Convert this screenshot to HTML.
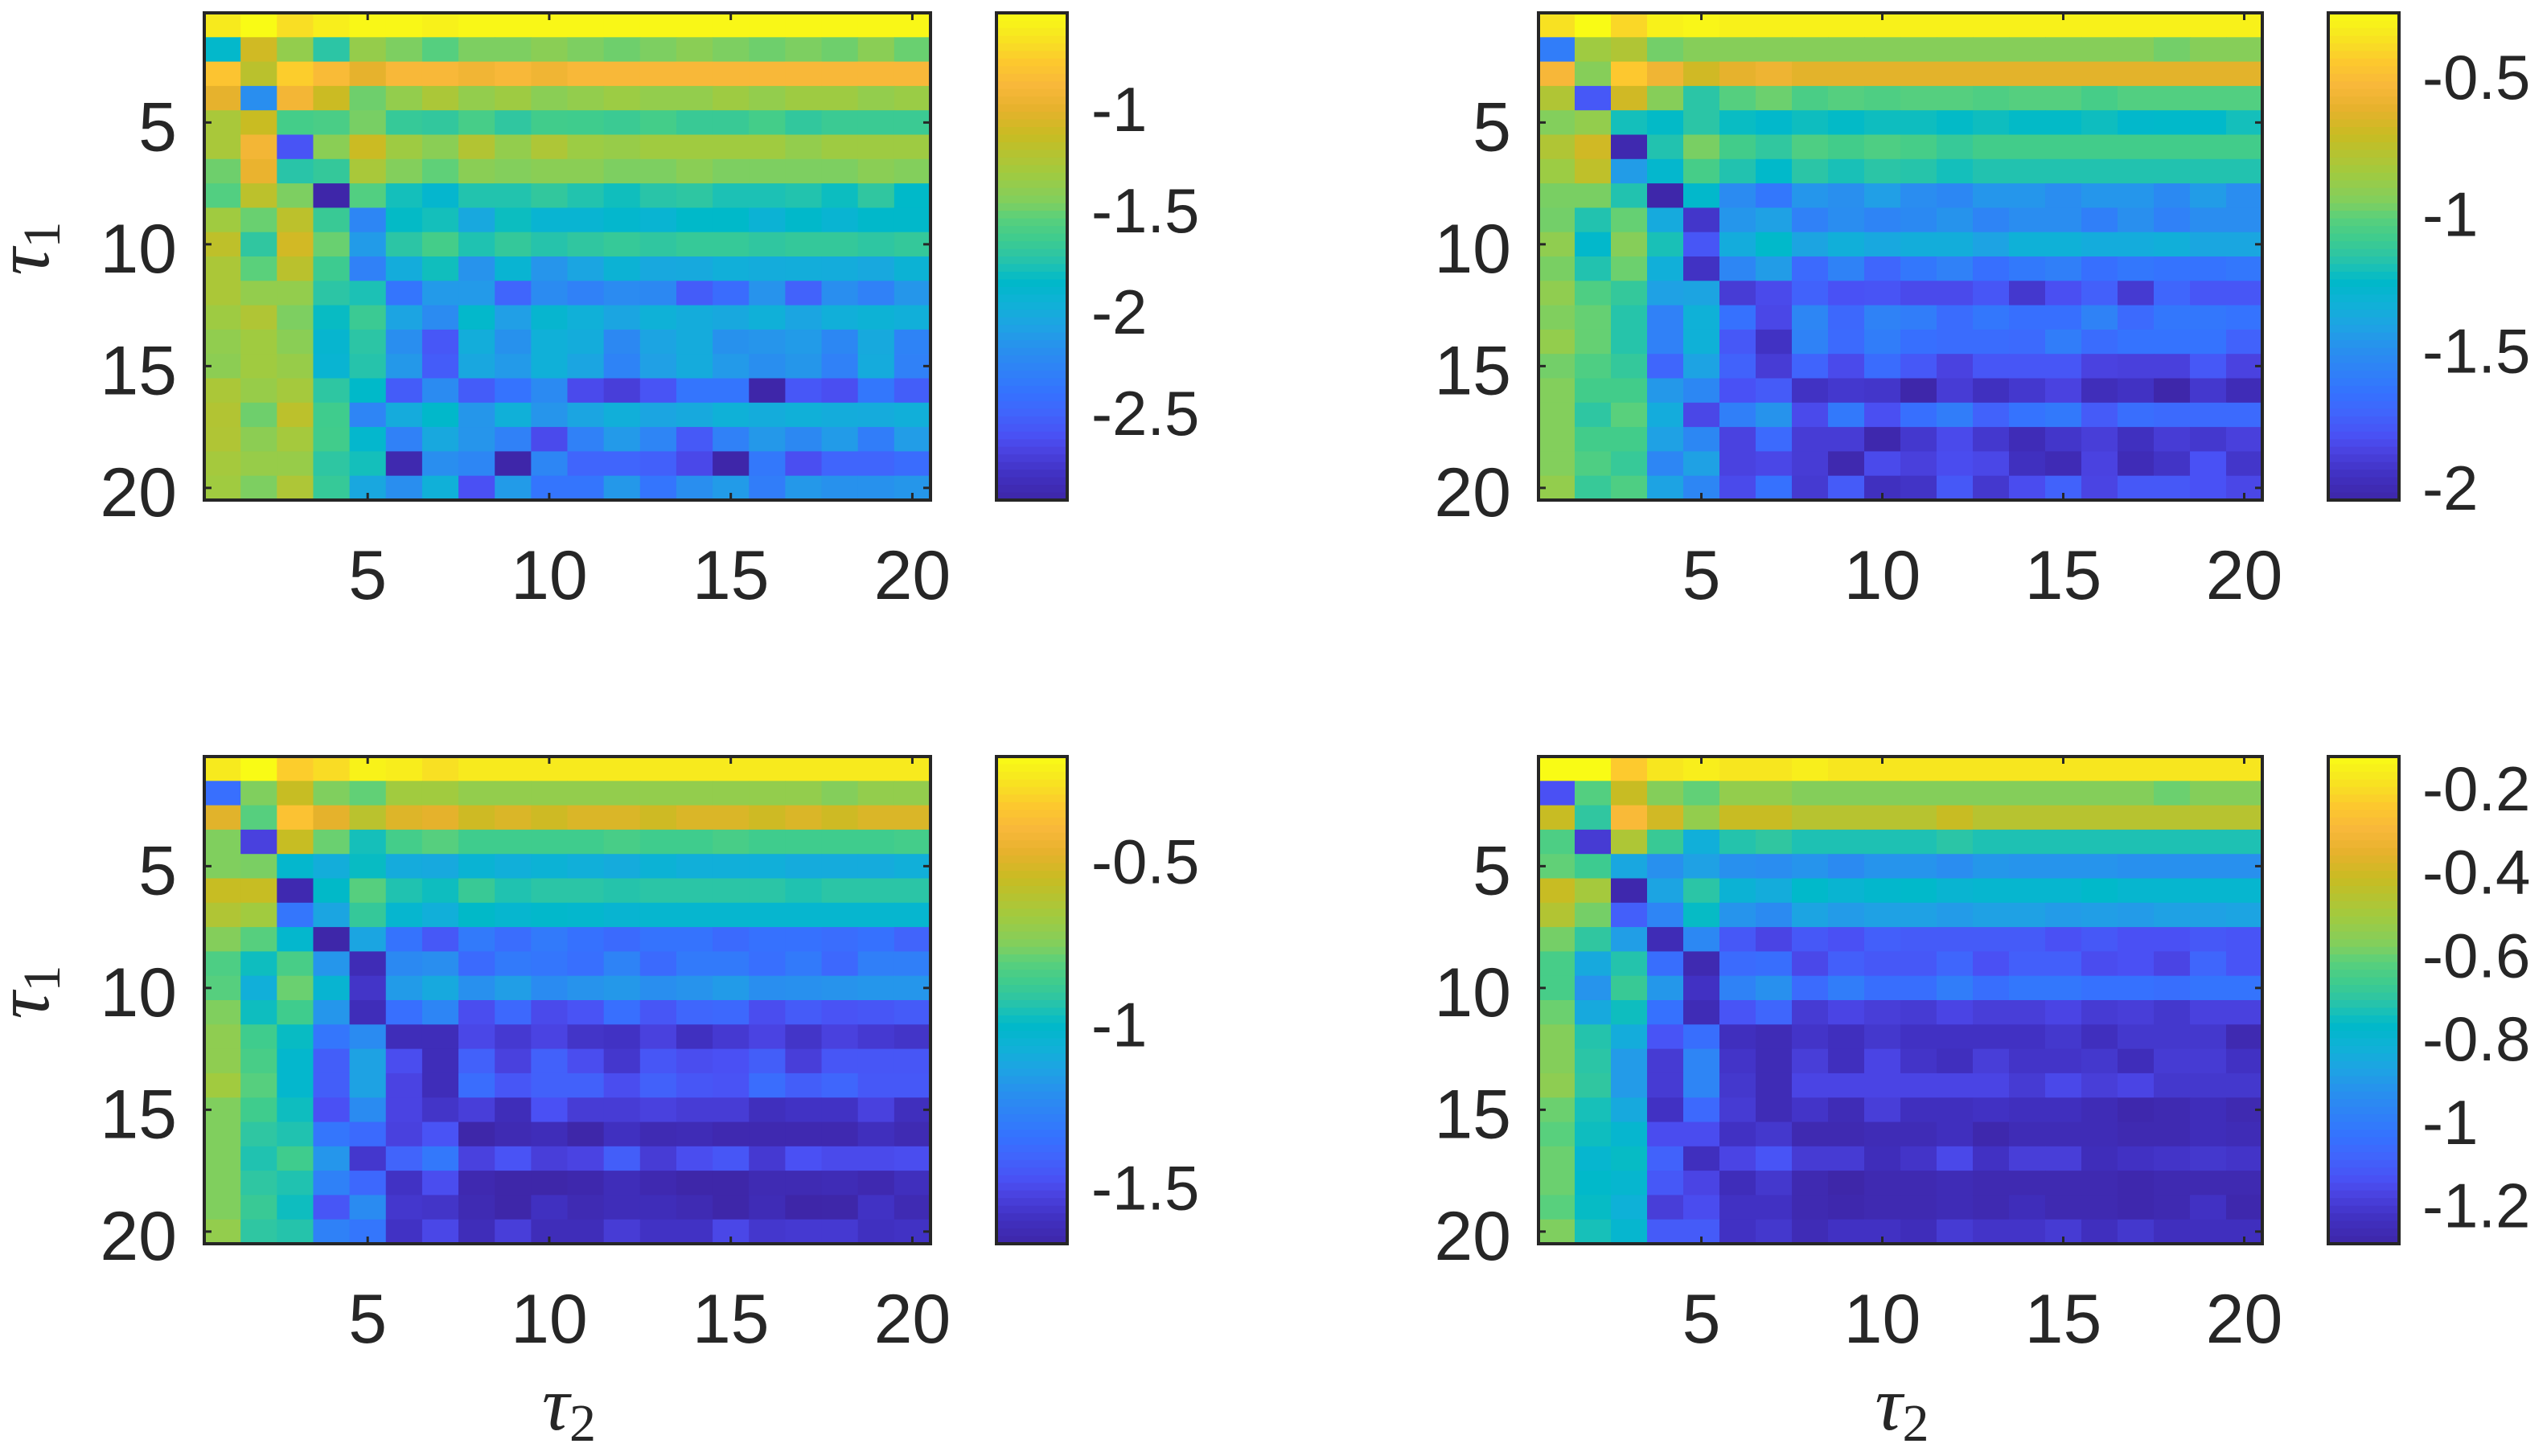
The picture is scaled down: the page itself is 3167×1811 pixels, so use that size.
<!DOCTYPE html>
<html lang="en">
<head>
<meta charset="utf-8">
<title>Heatmaps over tau1 and tau2</title>
<style>
html,body{margin:0;padding:0;background:#fff;}
svg{display:block;}
text{font-family:"Liberation Sans",sans-serif;fill:#262626;}
.math{font-family:"Liberation Serif",serif;font-style:italic;}
.sub{font-family:"Liberation Serif",serif;font-style:normal;}
</style>
</head>
<body>
<svg id="chart" xmlns="http://www.w3.org/2000/svg" width="3167" height="1811" viewBox="0 0 3167 1811"></svg>
<script>
const tau1Categories = [1,2,3,4,5,6,7,8,9,10,11,12,13,14,15,16,17,18,19,20];
const tau2Categories = [1,2,3,4,5,6,7,8,9,10,11,12,13,14,15,16,17,18,19,20];
const axisTickLabels = [5,10,15,20];

const valuesTopLeft = [
[-0.62,-0.52,-0.68,-0.60,-0.55,-0.55,-0.58,-0.55,-0.55,-0.55,-0.55,-0.55,-0.55,-0.55,-0.55,-0.55,-0.55,-0.55,-0.55,-0.55],
[-1.87,-1.10,-1.38,-1.73,-1.37,-1.47,-1.56,-1.47,-1.47,-1.42,-1.47,-1.50,-1.47,-1.42,-1.47,-1.50,-1.47,-1.50,-1.42,-1.51],
[-0.80,-1.20,-0.75,-0.86,-1.00,-0.88,-0.88,-0.93,-0.88,-0.94,-0.88,-0.88,-0.88,-0.88,-0.88,-0.88,-0.88,-0.88,-0.88,-0.88],
[-1.00,-2.20,-0.92,-1.12,-1.50,-1.38,-1.27,-1.38,-1.33,-1.42,-1.38,-1.34,-1.38,-1.38,-1.33,-1.38,-1.33,-1.33,-1.38,-1.35],
[-1.28,-1.13,-1.62,-1.60,-1.48,-1.68,-1.70,-1.61,-1.71,-1.63,-1.64,-1.66,-1.62,-1.67,-1.67,-1.62,-1.70,-1.66,-1.66,-1.66],
[-1.28,-0.92,-2.60,-1.42,-1.12,-1.33,-1.42,-1.24,-1.38,-1.26,-1.34,-1.36,-1.32,-1.32,-1.32,-1.32,-1.38,-1.33,-1.33,-1.33],
[-1.50,-0.98,-1.74,-1.69,-1.28,-1.45,-1.53,-1.42,-1.45,-1.42,-1.42,-1.47,-1.47,-1.42,-1.47,-1.47,-1.47,-1.47,-1.42,-1.45],
[-1.57,-1.19,-1.47,-2.93,-1.57,-1.80,-1.89,-1.76,-1.76,-1.70,-1.76,-1.81,-1.74,-1.72,-1.78,-1.78,-1.76,-1.82,-1.71,-1.85],
[-1.32,-1.51,-1.19,-1.67,-2.26,-1.84,-1.80,-2.03,-1.82,-1.92,-1.92,-1.88,-1.92,-1.85,-1.85,-1.94,-1.86,-1.92,-1.86,-1.86],
[-1.18,-1.71,-1.09,-1.51,-2.12,-1.73,-1.62,-1.77,-1.69,-1.75,-1.71,-1.68,-1.71,-1.68,-1.68,-1.71,-1.69,-1.69,-1.72,-1.69],
[-1.27,-1.54,-1.20,-1.65,-2.30,-2.00,-1.81,-2.17,-1.92,-2.16,-2.05,-1.94,-2.03,-2.02,-1.98,-2.00,-1.99,-2.00,-2.03,-1.94],
[-1.27,-1.38,-1.38,-1.73,-1.78,-2.38,-2.13,-2.13,-2.50,-2.22,-2.30,-2.22,-2.24,-2.55,-2.45,-2.17,-2.52,-2.20,-2.30,-2.15],
[-1.33,-1.25,-1.47,-1.83,-1.66,-2.06,-2.22,-1.87,-2.10,-1.90,-1.97,-2.05,-1.96,-2.00,-2.03,-1.97,-2.05,-1.98,-1.95,-1.98],
[-1.39,-1.32,-1.42,-1.90,-1.73,-2.20,-2.58,-1.99,-2.18,-1.97,-2.00,-2.24,-2.06,-2.01,-2.18,-2.16,-2.12,-2.25,-2.02,-2.28],
[-1.41,-1.32,-1.36,-1.92,-1.75,-2.14,-2.55,-2.04,-2.13,-1.97,-2.05,-2.28,-2.09,-2.01,-2.13,-2.20,-2.15,-2.30,-2.01,-2.30],
[-1.27,-1.36,-1.30,-1.72,-1.85,-2.55,-2.22,-2.55,-2.40,-2.23,-2.65,-2.72,-2.60,-2.38,-2.38,-2.93,-2.58,-2.63,-2.37,-2.54],
[-1.24,-1.50,-1.19,-1.64,-2.27,-2.01,-1.86,-2.15,-1.97,-2.16,-2.05,-1.98,-2.05,-2.02,-1.96,-2.00,-1.97,-2.00,-2.01,-1.98],
[-1.25,-1.41,-1.30,-1.63,-1.88,-2.30,-2.03,-2.16,-2.30,-2.65,-2.30,-2.13,-2.27,-2.57,-2.30,-2.14,-2.24,-2.12,-2.33,-2.11],
[-1.30,-1.36,-1.36,-1.72,-1.80,-2.90,-2.20,-2.26,-2.93,-2.26,-2.50,-2.50,-2.53,-2.66,-2.93,-2.36,-2.63,-2.50,-2.50,-2.45],
[-1.32,-1.47,-1.26,-1.68,-2.04,-2.20,-1.97,-2.62,-2.12,-2.38,-2.38,-2.14,-2.38,-2.20,-2.12,-2.33,-2.14,-2.18,-2.18,-2.15]
];

const valuesTopRight = [
[-0.37,-0.27,-0.40,-0.31,-0.29,-0.31,-0.31,-0.31,-0.31,-0.31,-0.31,-0.31,-0.31,-0.31,-0.31,-0.31,-0.31,-0.31,-0.31,-0.31],
[-1.60,-0.86,-0.80,-0.98,-0.94,-0.94,-0.94,-0.94,-0.94,-0.94,-0.94,-0.94,-0.94,-0.94,-0.94,-0.94,-0.94,-0.98,-0.94,-0.94],
[-0.54,-0.94,-0.45,-0.57,-0.69,-0.62,-0.58,-0.63,-0.63,-0.63,-0.63,-0.63,-0.63,-0.63,-0.63,-0.63,-0.63,-0.63,-0.63,-0.63],
[-0.80,-1.78,-0.69,-0.94,-1.16,-1.03,-0.99,-1.06,-1.03,-1.05,-1.03,-1.03,-1.05,-1.03,-1.03,-1.07,-1.04,-1.04,-1.04,-1.04],
[-0.95,-0.90,-1.21,-1.24,-1.16,-1.23,-1.26,-1.22,-1.24,-1.22,-1.22,-1.24,-1.22,-1.24,-1.24,-1.22,-1.26,-1.25,-1.25,-1.21],
[-0.80,-0.69,-2.02,-1.18,-0.97,-1.08,-1.14,-1.05,-1.08,-1.05,-1.07,-1.12,-1.08,-1.08,-1.08,-1.08,-1.08,-1.08,-1.08,-1.08],
[-0.87,-0.75,-1.44,-1.27,-1.07,-1.18,-1.25,-1.16,-1.20,-1.16,-1.17,-1.21,-1.18,-1.18,-1.18,-1.18,-1.18,-1.18,-1.18,-1.18],
[-0.97,-0.97,-1.18,-2.04,-1.26,-1.52,-1.63,-1.47,-1.50,-1.43,-1.51,-1.54,-1.47,-1.47,-1.51,-1.47,-1.47,-1.53,-1.44,-1.51],
[-0.98,-1.18,-1.00,-1.37,-1.93,-1.47,-1.42,-1.58,-1.51,-1.56,-1.53,-1.48,-1.56,-1.51,-1.51,-1.59,-1.50,-1.58,-1.51,-1.51],
[-0.91,-1.26,-0.94,-1.20,-1.79,-1.36,-1.25,-1.40,-1.34,-1.38,-1.35,-1.35,-1.41,-1.33,-1.33,-1.36,-1.36,-1.34,-1.39,-1.39],
[-0.97,-1.18,-0.99,-1.34,-1.95,-1.55,-1.44,-1.70,-1.57,-1.72,-1.63,-1.58,-1.67,-1.62,-1.59,-1.67,-1.63,-1.65,-1.65,-1.63],
[-0.91,-1.05,-1.13,-1.42,-1.40,-1.90,-1.84,-1.74,-1.81,-1.80,-1.84,-1.84,-1.79,-1.92,-1.82,-1.75,-1.91,-1.72,-1.79,-1.79],
[-0.96,-1.00,-1.17,-1.58,-1.33,-1.66,-1.85,-1.55,-1.71,-1.57,-1.60,-1.69,-1.63,-1.67,-1.67,-1.57,-1.70,-1.63,-1.63,-1.65],
[-0.90,-1.00,-1.17,-1.58,-1.33,-1.78,-1.95,-1.57,-1.70,-1.60,-1.67,-1.69,-1.69,-1.70,-1.60,-1.69,-1.65,-1.65,-1.65,-1.74],
[-0.98,-1.05,-1.13,-1.72,-1.41,-1.74,-1.90,-1.73,-1.84,-1.69,-1.78,-1.87,-1.79,-1.79,-1.79,-1.87,-1.88,-1.88,-1.78,-1.87],
[-0.95,-1.08,-1.08,-1.46,-1.54,-1.81,-1.77,-1.95,-1.92,-1.93,-2.04,-1.90,-1.96,-1.92,-1.87,-1.98,-1.95,-2.04,-1.92,-1.99],
[-0.95,-1.15,-1.02,-1.36,-1.85,-1.59,-1.48,-1.84,-1.62,-1.82,-1.67,-1.60,-1.74,-1.65,-1.62,-1.77,-1.68,-1.70,-1.70,-1.70],
[-0.95,-1.08,-1.08,-1.42,-1.54,-1.87,-1.70,-1.90,-1.90,-2.03,-1.92,-1.84,-1.92,-1.99,-1.93,-1.89,-1.96,-1.90,-1.92,-1.88],
[-0.95,-1.05,-1.12,-1.55,-1.42,-1.87,-1.85,-1.90,-2.02,-1.84,-1.88,-1.83,-1.85,-1.96,-2.00,-1.87,-1.99,-1.94,-1.81,-1.93],
[-0.90,-1.12,-1.05,-1.41,-1.55,-1.84,-1.66,-1.91,-1.77,-1.96,-1.94,-1.78,-1.92,-1.83,-1.74,-1.86,-1.78,-1.78,-1.81,-1.85]
];

const valuesBottomLeft = [
[-0.24,-0.18,-0.32,-0.28,-0.21,-0.23,-0.27,-0.24,-0.24,-0.24,-0.24,-0.24,-0.24,-0.24,-0.24,-0.24,-0.24,-0.24,-0.24,-0.24],
[-1.36,-0.76,-0.56,-0.76,-0.80,-0.67,-0.67,-0.71,-0.71,-0.71,-0.71,-0.71,-0.71,-0.71,-0.71,-0.71,-0.71,-0.75,-0.71,-0.71],
[-0.49,-0.82,-0.36,-0.48,-0.60,-0.50,-0.48,-0.54,-0.51,-0.54,-0.51,-0.51,-0.54,-0.51,-0.51,-0.54,-0.51,-0.54,-0.51,-0.51],
[-0.76,-1.53,-0.56,-0.79,-0.97,-0.86,-0.82,-0.87,-0.87,-0.87,-0.87,-0.85,-0.87,-0.87,-0.85,-0.87,-0.87,-0.87,-0.87,-0.86],
[-0.76,-0.77,-1.02,-1.09,-0.99,-1.10,-1.11,-1.05,-1.08,-1.06,-1.08,-1.10,-1.06,-1.08,-1.08,-1.08,-1.10,-1.10,-1.10,-1.08],
[-0.56,-0.56,-1.65,-1.00,-0.82,-0.95,-0.98,-0.89,-0.95,-0.93,-0.93,-0.94,-0.93,-0.93,-0.93,-0.93,-0.95,-0.93,-0.93,-0.93],
[-0.63,-0.67,-1.33,-1.13,-0.90,-1.03,-1.08,-1.00,-1.03,-1.01,-1.02,-1.04,-1.03,-1.03,-1.03,-1.03,-1.03,-1.03,-1.03,-1.03],
[-0.75,-0.82,-1.02,-1.67,-1.13,-1.34,-1.45,-1.31,-1.37,-1.31,-1.35,-1.38,-1.34,-1.34,-1.38,-1.35,-1.35,-1.37,-1.35,-1.41],
[-0.84,-0.98,-0.85,-1.19,-1.63,-1.24,-1.22,-1.38,-1.31,-1.33,-1.36,-1.27,-1.38,-1.31,-1.31,-1.36,-1.31,-1.39,-1.29,-1.29],
[-0.82,-1.08,-0.79,-1.04,-1.58,-1.17,-1.11,-1.21,-1.16,-1.23,-1.20,-1.18,-1.22,-1.20,-1.17,-1.22,-1.21,-1.20,-1.19,-1.19],
[-0.76,-0.98,-0.87,-1.19,-1.62,-1.36,-1.26,-1.49,-1.39,-1.50,-1.47,-1.36,-1.46,-1.40,-1.39,-1.49,-1.44,-1.47,-1.46,-1.44],
[-0.72,-0.87,-0.99,-1.33,-1.23,-1.62,-1.62,-1.51,-1.56,-1.52,-1.58,-1.59,-1.53,-1.60,-1.56,-1.52,-1.58,-1.53,-1.56,-1.58],
[-0.72,-0.85,-1.02,-1.43,-1.14,-1.49,-1.62,-1.42,-1.53,-1.42,-1.49,-1.57,-1.46,-1.49,-1.48,-1.43,-1.54,-1.46,-1.46,-1.46],
[-0.67,-0.82,-1.02,-1.43,-1.14,-1.52,-1.62,-1.37,-1.46,-1.42,-1.42,-1.49,-1.42,-1.46,-1.47,-1.37,-1.43,-1.40,-1.45,-1.45],
[-0.76,-0.87,-0.98,-1.48,-1.23,-1.52,-1.58,-1.54,-1.62,-1.48,-1.55,-1.55,-1.53,-1.55,-1.55,-1.61,-1.59,-1.59,-1.53,-1.61],
[-0.76,-0.92,-0.95,-1.33,-1.38,-1.53,-1.47,-1.67,-1.64,-1.62,-1.67,-1.60,-1.64,-1.63,-1.65,-1.65,-1.65,-1.65,-1.61,-1.64],
[-0.76,-0.95,-0.87,-1.19,-1.57,-1.41,-1.32,-1.53,-1.47,-1.54,-1.52,-1.43,-1.55,-1.49,-1.46,-1.56,-1.48,-1.50,-1.50,-1.49],
[-0.76,-0.92,-0.95,-1.28,-1.39,-1.59,-1.49,-1.65,-1.67,-1.67,-1.66,-1.62,-1.65,-1.67,-1.67,-1.64,-1.64,-1.63,-1.65,-1.61],
[-0.76,-0.89,-0.98,-1.46,-1.23,-1.57,-1.58,-1.64,-1.67,-1.60,-1.64,-1.62,-1.62,-1.64,-1.67,-1.63,-1.68,-1.67,-1.59,-1.64],
[-0.71,-0.92,-0.94,-1.28,-1.33,-1.59,-1.51,-1.62,-1.54,-1.62,-1.62,-1.55,-1.59,-1.59,-1.51,-1.57,-1.56,-1.56,-1.60,-1.59]
];

const valuesBottomRight = [
[-0.12,-0.12,-0.24,-0.18,-0.16,-0.18,-0.18,-0.16,-0.18,-0.18,-0.18,-0.18,-0.18,-0.18,-0.18,-0.18,-0.18,-0.18,-0.18,-0.18],
[-1.14,-0.63,-0.42,-0.57,-0.61,-0.54,-0.54,-0.57,-0.57,-0.57,-0.57,-0.57,-0.57,-0.57,-0.57,-0.57,-0.57,-0.60,-0.57,-0.57],
[-0.42,-0.70,-0.29,-0.40,-0.54,-0.42,-0.42,-0.46,-0.46,-0.46,-0.46,-0.42,-0.46,-0.46,-0.46,-0.46,-0.46,-0.46,-0.46,-0.46],
[-0.64,-1.20,-0.48,-0.68,-0.83,-0.72,-0.70,-0.73,-0.73,-0.73,-0.73,-0.71,-0.73,-0.73,-0.73,-0.73,-0.73,-0.73,-0.73,-0.73],
[-0.61,-0.67,-0.86,-0.93,-0.88,-0.93,-0.94,-0.92,-0.95,-0.92,-0.92,-0.94,-0.91,-0.92,-0.92,-0.92,-0.93,-0.93,-0.93,-0.93],
[-0.42,-0.50,-1.28,-0.87,-0.71,-0.81,-0.84,-0.77,-0.80,-0.78,-0.77,-0.80,-0.79,-0.79,-0.79,-0.77,-0.79,-0.79,-0.79,-0.79],
[-0.47,-0.59,-1.10,-0.97,-0.76,-0.92,-0.95,-0.87,-0.90,-0.88,-0.88,-0.90,-0.88,-0.88,-0.90,-0.89,-0.90,-0.88,-0.88,-0.87],
[-0.59,-0.70,-0.89,-1.26,-0.96,-1.12,-1.17,-1.12,-1.14,-1.10,-1.11,-1.11,-1.11,-1.11,-1.14,-1.12,-1.14,-1.14,-1.12,-1.13],
[-0.65,-0.85,-0.72,-1.05,-1.27,-1.06,-1.05,-1.16,-1.10,-1.12,-1.12,-1.08,-1.14,-1.10,-1.10,-1.15,-1.14,-1.17,-1.08,-1.13],
[-0.65,-0.92,-0.68,-0.91,-1.23,-0.98,-0.93,-1.06,-1.00,-1.05,-1.05,-1.00,-1.05,-1.02,-1.02,-1.04,-1.04,-1.05,-1.03,-1.03],
[-0.60,-0.85,-0.75,-1.04,-1.26,-1.13,-1.08,-1.20,-1.17,-1.19,-1.20,-1.17,-1.19,-1.19,-1.17,-1.20,-1.19,-1.21,-1.18,-1.18],
[-0.57,-0.72,-0.84,-1.13,-1.05,-1.24,-1.26,-1.22,-1.24,-1.21,-1.23,-1.23,-1.23,-1.23,-1.21,-1.24,-1.21,-1.21,-1.21,-1.27],
[-0.57,-0.71,-0.90,-1.20,-0.97,-1.22,-1.26,-1.19,-1.24,-1.17,-1.22,-1.24,-1.19,-1.22,-1.22,-1.21,-1.25,-1.20,-1.20,-1.23],
[-0.55,-0.70,-0.90,-1.20,-0.97,-1.21,-1.26,-1.17,-1.17,-1.17,-1.17,-1.17,-1.17,-1.20,-1.16,-1.19,-1.17,-1.21,-1.21,-1.21],
[-0.60,-0.74,-0.85,-1.23,-1.07,-1.20,-1.26,-1.22,-1.26,-1.19,-1.24,-1.24,-1.23,-1.24,-1.24,-1.26,-1.28,-1.27,-1.25,-1.27],
[-0.62,-0.75,-0.79,-1.15,-1.15,-1.23,-1.21,-1.27,-1.27,-1.26,-1.26,-1.24,-1.28,-1.26,-1.26,-1.26,-1.27,-1.27,-1.25,-1.26],
[-0.60,-0.79,-0.76,-1.09,-1.24,-1.17,-1.13,-1.20,-1.20,-1.25,-1.22,-1.16,-1.23,-1.19,-1.19,-1.25,-1.23,-1.22,-1.21,-1.22],
[-0.60,-0.77,-0.79,-1.12,-1.17,-1.25,-1.21,-1.27,-1.29,-1.27,-1.27,-1.26,-1.27,-1.27,-1.27,-1.27,-1.28,-1.27,-1.27,-1.27],
[-0.62,-0.76,-0.82,-1.19,-1.15,-1.23,-1.23,-1.27,-1.28,-1.27,-1.27,-1.26,-1.27,-1.25,-1.27,-1.27,-1.28,-1.27,-1.23,-1.28],
[-0.58,-0.74,-0.79,-1.11,-1.11,-1.23,-1.21,-1.26,-1.23,-1.23,-1.25,-1.20,-1.22,-1.22,-1.20,-1.24,-1.21,-1.24,-1.24,-1.24]
];

const colorLimitsTopLeft = [-2.933,-0.528];
const colorLimitsTopRight = [-2.047,-0.268];
const colorLimitsBottomLeft = [-1.674,-0.181];
const colorLimitsBottomRight = [-1.293,-0.125];

const colorbarTicksTopLeft = [-1,-1.5,-2,-2.5];
const colorbarTicksTopRight = [-0.5,-1,-1.5,-2];
const colorbarTicksBottomLeft = [-0.5,-1,-1.5];
const colorbarTicksBottomRight = [-0.2,-0.4,-0.6,-0.8,-1,-1.2];

const NS = 'http://www.w3.org/2000/svg';
const svg = document.getElementById('chart');
const INK = '#262626';

/* colormap: position measured down the colorbar (0 = top) */
const colormapPositions = [0,0.05,0.10,0.15,0.20,0.25,0.30,0.33,0.36,0.39,0.42,0.46,0.50,0.525,0.55,0.60,0.65,0.70,0.74,0.78,0.82,0.87,0.90,0.95,1];
const colormapColors = ['#f9fb15','#f7e520','#fdc92e','#f8b73a','#e5b22c','#c9bc22','#b0c535','#a0cb40','#90cd50','#7fcf5f','#5bd07b','#40cc8c','#2cc5a5','#18c0b8','#00b9c9','#10b0d8','#20a0e5','#2a8cf0','#3080f8','#3572fe','#4065fc','#4a50f4','#4a42e0','#4030c0','#3e26a8'];

function hexToRgb(h){return [parseInt(h.slice(1,3),16),parseInt(h.slice(3,5),16),parseInt(h.slice(5,7),16)];}
function colorAt(p){
  const q=Math.max(0,Math.min(1,p));
  let i=0;
  while(i<colormapPositions.length-2 && q>colormapPositions[i+1]) i++;
  const f=(q-colormapPositions[i])/(colormapPositions[i+1]-colormapPositions[i]);
  const a=hexToRgb(colormapColors[i]);
  const b=hexToRgb(colormapColors[i+1]);
  return 'rgb('+[0,1,2].map(k=>Math.round(a[k]+(b[k]-a[k])*f)).join(',')+')';
}
function make(tag,attrs,parent){
  const el=document.createElementNS(NS,tag);
  for(const k in attrs) el.setAttribute(k,attrs[k]);
  parent.appendChild(el);
  return el;
}

const panels = [
  {key:'top-left',values:valuesTopLeft,limits:colorLimitsTopLeft,cbTicks:colorbarTicksTopLeft,x0:254,y0:16,w:903,barX:1239,labelX:1357,showY:true,showX:false},
  {key:'top-right',values:valuesTopRight,limits:colorLimitsTopRight,cbTicks:colorbarTicksTopRight,x0:1913,y0:16,w:900,barX:2895,labelX:3012,showY:false,showX:false},
  {key:'bottom-left',values:valuesBottomLeft,limits:colorLimitsBottomLeft,cbTicks:colorbarTicksBottomLeft,x0:254,y0:941,w:903,barX:1239,labelX:1357,showY:true,showX:true},
  {key:'bottom-right',values:valuesBottomRight,limits:colorLimitsBottomRight,cbTicks:colorbarTicksBottomRight,x0:1913,y0:941,w:900,barX:2895,labelX:3012,showY:false,showX:true}
];
const PLOT_H = 606, BAR_W = 88, TICK = 9;

panels.forEach(function(pn){
  const g=make('g',{},svg);
  
  

  const cw=pn.w/tau2Categories.length, ch=PLOT_H/tau1Categories.length;
  const xScale=function(v){return pn.x0+(v-0.5)*cw;};
  const yScale=function(v){return pn.y0+(v-0.5)*ch;};
  const pos=function(v){return (pn.limits[1]-v)/(pn.limits[1]-pn.limits[0]);};

  tau1Categories.forEach(function(t1,r){
    tau2Categories.forEach(function(t2,c){
      const cell=make('rect',{x:xScale(t2)-cw/2,y:yScale(t1)-ch/2,width:cw+0.6,height:ch+0.6,fill:colorAt(pos(pn.values[r][c]))},g);
      
      
    });
  });

  axisTickLabels.forEach(function(t){
    const x=xScale(t), y=yScale(t), x1=pn.x0+pn.w, y1=pn.y0+PLOT_H;
    [[x,pn.y0,x,pn.y0+TICK],[x,y1,x,y1-TICK],[pn.x0,y,pn.x0+TICK,y],[x1,y,x1-TICK,y]].forEach(function(s){
      const tick=make('line',{x1:s[0],y1:s[1],x2:s[2],y2:s[3],stroke:INK,'stroke-width':3},g);
      
      
    });
    const xl=make('text',{x:x,y:y1+123,'text-anchor':'middle','font-size':86},g);
    
    
    xl.textContent=t;
    const yl=make('text',{x:pn.x0-34,y:y+35,'text-anchor':'end','font-size':86},g);
    
    
    yl.textContent=t;
  });

  const frame=make('rect',{x:pn.x0,y:pn.y0,width:pn.w,height:PLOT_H,fill:'none',stroke:INK,'stroke-width':4},g);
  
  

  if(pn.showX){
    const xt=make('text',{x:pn.x0+pn.w*0.5+2,y:pn.y0+PLOT_H+231,'text-anchor':'middle','font-size':95,'class':'math'},g);
    
    
    xt.textContent='τ';
    const xs=make('tspan',{dy:14,'font-size':66,'class':'sub'},xt);
    xs.textContent='2';
  }
  if(pn.showY){
    const yt=make('text',{transform:'translate(60,'+(pn.y0+PLOT_H/2-10)+') rotate(-90)','text-anchor':'middle','font-size':95,'class':'math'},g);
    
    
    yt.textContent='τ';
    const ys=make('tspan',{dy:14,'font-size':66,'class':'sub'},yt);
    ys.textContent='1';
  }

  const bar=make('g',{},g);
  
  
  const levels=64;
  for(let i=0;i<levels;i++){
    const band=make('rect',{x:pn.barX,y:pn.y0+i*PLOT_H/levels,width:BAR_W,height:PLOT_H/levels+0.6,fill:colorAt((i+0.5)/levels)},bar);
    
    
  }
  const barFrame=make('rect',{x:pn.barX,y:pn.y0,width:BAR_W,height:PLOT_H,fill:'none',stroke:INK,'stroke-width':4},bar);
  
  
  pn.cbTicks.forEach(function(v){
    const lab=make('text',{x:pn.labelX,y:pn.y0+pos(v)*PLOT_H+28,'font-size':78},bar);
    
    
    lab.textContent=String(v);
  });
});
</script>
</body>
</html>
